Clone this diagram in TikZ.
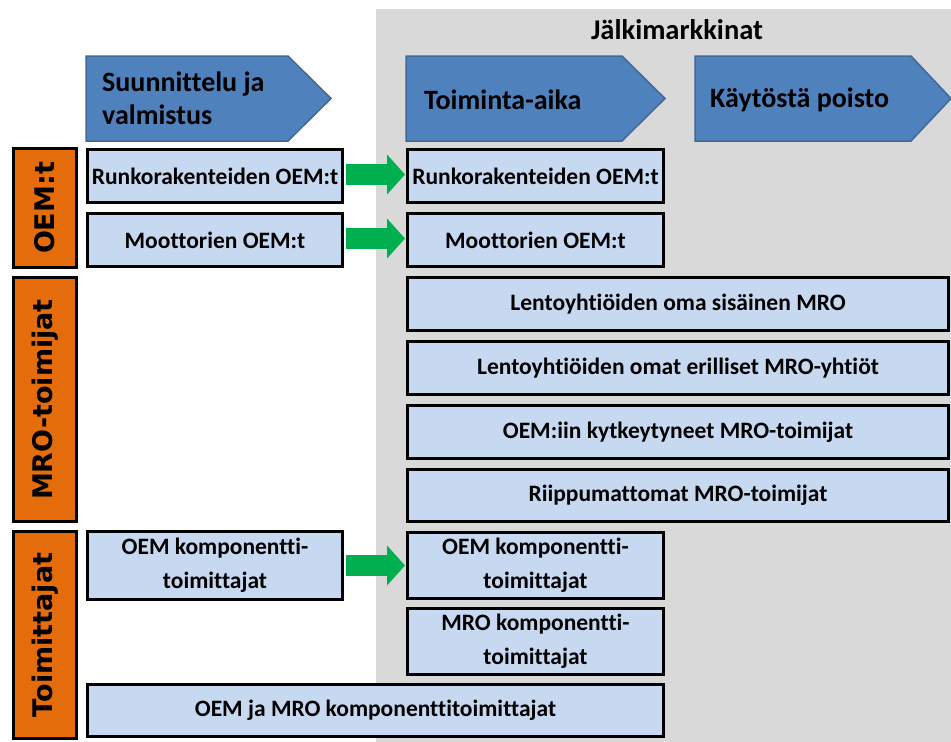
\documentclass[tikz,border=0pt]{standalone}
\usepackage{fontspec}
\setmainfont{Carlito}[Ligatures={NoCommon}]
\newfontfamily\sidefont{DejaVu Sans}
\usetikzlibrary{arrows.meta}
\definecolor{bgray}{HTML}{D9D9D9}
\definecolor{chevfill}{HTML}{4F81BD}
\definecolor{chevline}{HTML}{41689A}
\definecolor{boxfill}{HTML}{C6D9F1}
\definecolor{orangefill}{HTML}{E46C0A}
\definecolor{arrowgreen}{HTML}{00B050}
\tikzset{
  box/.style={draw=black, line width=3pt, fill=boxfill, inner sep=0pt, align=center,
    font=\bfseries\fontsize{23.5}{34}\selectfont, text=black},
  sidebox/.style={draw=black, line width=3pt, fill=orangefill, inner sep=0pt,
    minimum width=63pt},
  sidetext/.style={rotate=90, inner sep=0pt, font=\sidefont\bfseries\fontsize{27}{30}\selectfont, text=black},
  chev/.style={fill=chevfill, draw=chevline, line width=1.5pt},
  chevtext/.style={anchor=west, inner sep=0pt, align=left,
    font=\bfseries\fontsize{28}{33}\selectfont, text=black},
  flow/.style={line width=21pt, draw=arrowgreen, -{Triangle[length=18pt,width=39pt]}}
}
\begin{document}
\begin{tikzpicture}[x=1pt,y=-1pt]
\useasboundingbox (0,0) rectangle (951,742);
% background of aftermarket
\fill[bgray] (376,9) rectangle (951,742);
\node[inner sep=0pt, font=\bfseries\fontsize{28.5}{30}\selectfont] (jm) at (677,30) {Jälkimarkkinat};
% chevrons
\path[chev] (86,56) -- (288,56) -- (331,98.5) -- (288,141) -- (86,141) -- cycle;
\path[chev] (406,56) -- (622,56) -- (665,98.5) -- (622,141) -- (406,141) -- cycle;
\path[chev] (695,56) -- (911,56) -- (951,98.5) -- (911,141) -- (695,141) -- cycle;
\node[chevtext] (c1) at (102,98) {Suunnittelu ja\\valmistus};
\node[chevtext] (c2) at (424,100) {Toiminta-aika};
\node[chevtext] (c3) at (710,100) {Käytöstä poisto};
% side labels
\node[sidebox, minimum height=119pt] (s1) at (45,208) {};
\node[sidetext] (s1t) at (s1.center) {OEM:t};
\node[sidebox, minimum height=244pt] (s2) at (45,399.5) {};
\node[sidetext] (s2t) at (s2.center) {MRO-toimijat};
\node[sidebox, minimum height=207pt] (s3) at (45,635) {};
\node[sidetext] (s3t) at (s3.center) {Toimittajat};
% boxes
\node[box, minimum width=255pt, minimum height=53pt] (L1) at (215,176) {Runkorakenteiden OEM:t};
\node[box, minimum width=255pt, minimum height=53pt] (L2) at (215,240) {Moottorien OEM:t};
\node[box, minimum width=256pt, minimum height=53pt] (R1) at (535.5,176) {Runkorakenteiden OEM:t};
\node[box, minimum width=256pt, minimum height=53pt] (R2) at (535.5,240) {Moottorien OEM:t};
\node[box, minimum width=541pt, minimum height=53pt] (W1) at (678,304) {Lentoyhtiöiden oma sisäinen MRO};
\node[box, minimum width=541pt, minimum height=53pt] (W2) at (678,368) {Lentoyhtiöiden omat erilliset MRO-yhtiöt};
\node[box, minimum width=541pt, minimum height=53pt] (W3) at (678,432) {OEM:iin kytkeytyneet MRO-toimijat};
\node[box, minimum width=541pt, minimum height=52pt] (W4) at (678,495.5) {Riippumattomat MRO-toimijat};
\node[box, minimum width=255pt, minimum height=68pt] (L3) at (215,565.5) {OEM komponentti-\\toimittajat};
\node[box, minimum width=256pt, minimum height=66pt] (R3) at (535.5,565.5) {OEM komponentti-\\toimittajat};
\node[box, minimum width=256pt, minimum height=66pt] (R4) at (535.5,641.5) {MRO komponentti-\\toimittajat};
\node[box, minimum width=576pt, minimum height=52pt] (B) at (375.5,710.5) {OEM ja MRO komponenttitoimittajat};
% arrows
\draw[flow] ([xshift=1.5pt,yshift=1.5pt]L1.east) -- ([xshift=-1pt,yshift=1.5pt]R1.west);
\draw[flow] ([xshift=1.5pt,yshift=1.5pt]L2.east) -- ([xshift=-1pt,yshift=1.5pt]R2.west);
\draw[flow] ([xshift=1.5pt]L3.east) -- ([xshift=-1pt]R3.west);
\end{tikzpicture}
\end{document}
